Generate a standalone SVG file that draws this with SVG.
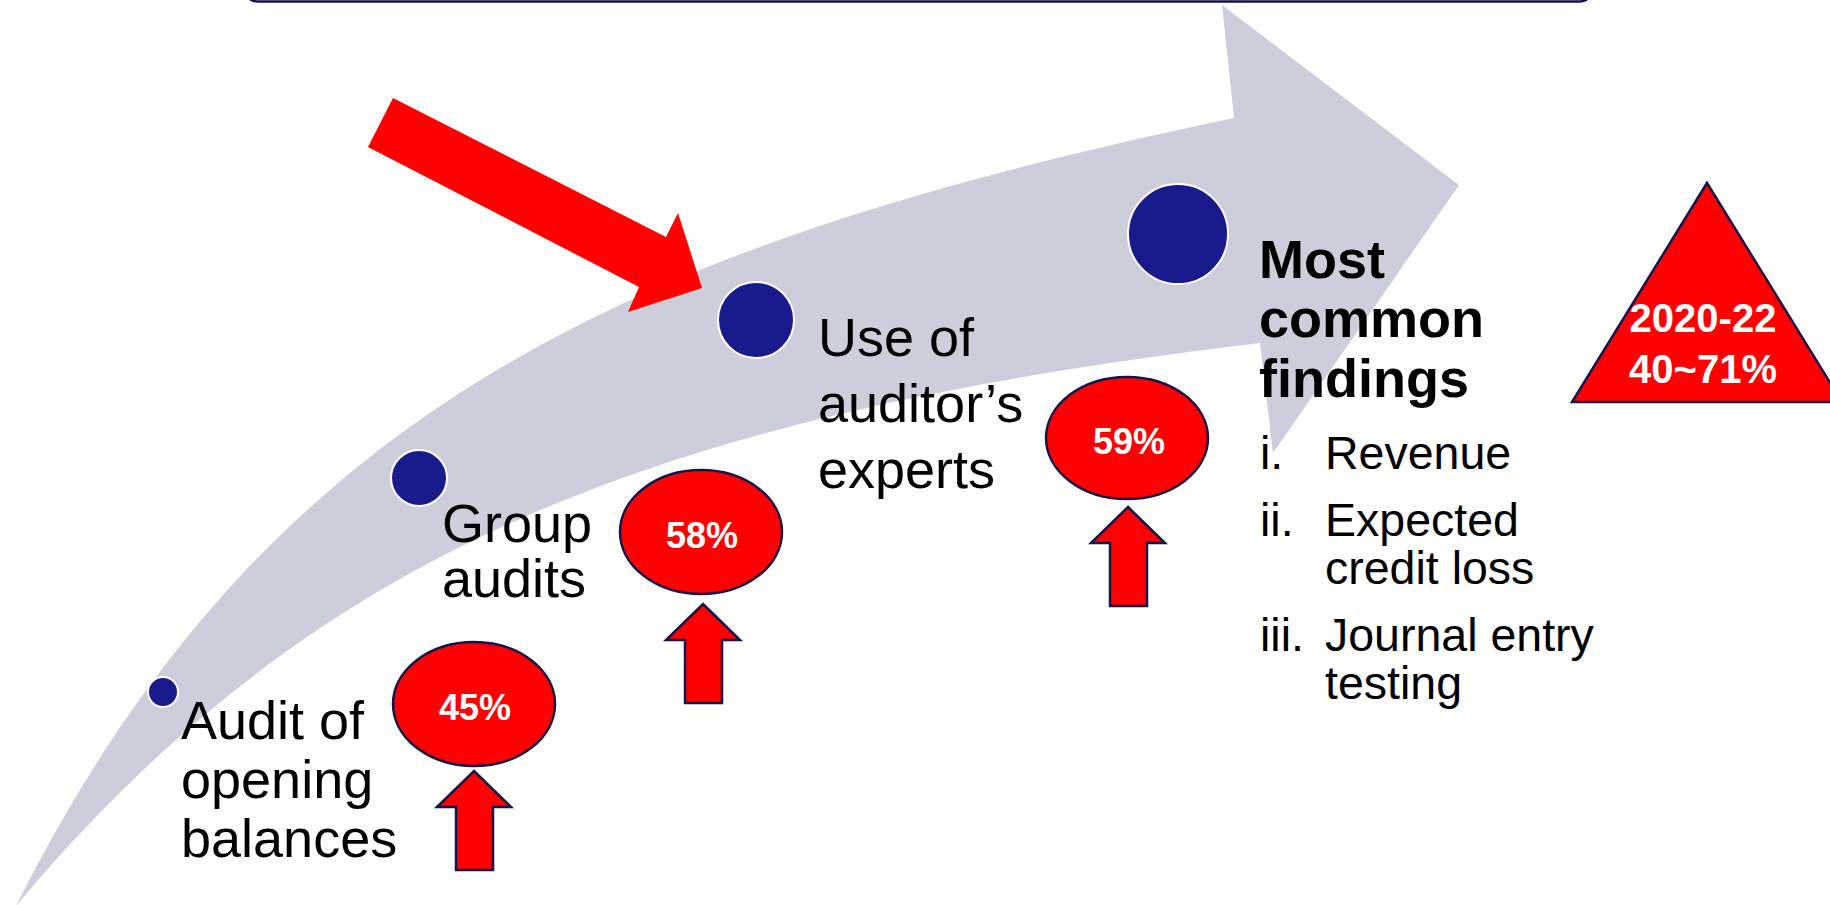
<svg xmlns="http://www.w3.org/2000/svg" width="1830" height="905" viewBox="0 0 1830 905">
<style>
.t{font-family:"Liberation Sans",Arial,sans-serif;fill:#000}
.lbl{font-size:54px}
.bold{font-weight:bold}
.lst{font-size:46.5px}
.pct{font-family:"Liberation Sans",Arial,sans-serif;font-weight:bold;font-size:36px;fill:#fff;text-anchor:middle}
.tri{font-family:"Liberation Sans",Arial,sans-serif;font-weight:bold;font-size:40px;fill:#fff;text-anchor:middle}
.dot{fill:#191B8D;stroke:#fff;stroke-width:2}
.oval{fill:#FF0000;stroke:#14144A;stroke-width:2.5}
.up{fill:#FF0000;stroke:#14144A;stroke-width:2.5;stroke-linejoin:miter}
</style>
<defs>
<polygon id="uparrow" points="0,0 37,36 19,36 19,99 -18,99 -18,36 -37,36"/>
</defs>
<rect width="1830" height="905" fill="#fff"/>
<path d="M246,-12 Q246,1.5 258,1.5 L1579,1.5 Q1591,1.5 1591,-12" fill="none" stroke="#10104A" stroke-width="2.5"/>
<g id="band">
<path d="M16,906 C268,405 634,244 1234,118 L1222,5 L1459,185 L1273,453 L1260,343 C660,415 318,545 16,906 Z" fill="#CDCDDC"/>
</g>
<g id="connectors">
<polygon id="pointer" points="393,98 666,237 678,213 702,288 628,312 639,287 368,147" fill="#FF0000"/>
<use href="#uparrow" x="474" y="771" class="up"/>
<use href="#uparrow" x="703" y="604" class="up"/>
<use href="#uparrow" x="1128" y="507" class="up"/>
</g>
<g id="node-opening">
<circle class="dot" cx="163" cy="692" r="15"/>
<text class="t lbl" x="181" y="739">Audit of</text>
<text class="t lbl" x="181" y="798">opening</text>
<text class="t lbl" x="181" y="857">balances</text>
</g>
<g id="node-group">
<circle class="dot" cx="419" cy="478" r="28"/>
<text class="t lbl" x="442" y="542">Group</text>
<text class="t lbl" x="442" y="597">audits</text>
</g>
<g id="node-experts">
<circle class="dot" cx="756" cy="320" r="38"/>
<text class="t lbl" x="818" y="356">Use of</text>
<text class="t lbl" x="818" y="422">auditor’s</text>
<text class="t lbl" x="818" y="488">experts</text>
</g>
<g id="node-findings">
<circle class="dot" cx="1178" cy="234" r="50"/>
<text class="t lbl bold" x="1259" y="278">Most</text>
<text class="t lbl bold" x="1259" y="337">common</text>
<text class="t lbl bold" x="1259" y="397">findings</text>
<text class="t lst" x="1260" y="469">i.</text>
<text class="t lst" x="1325" y="469">Revenue</text>
<text class="t lst" x="1260" y="536">ii.</text>
<text class="t lst" x="1325" y="536">Expected</text>
<text class="t lst" x="1325" y="584">credit loss</text>
<text class="t lst" x="1260" y="651">iii.</text>
<text class="t lst" x="1325" y="651">Journal entry</text>
<text class="t lst" x="1325" y="699">testing</text>
</g>
<g id="pct-45">
<ellipse class="oval" cx="474" cy="704" rx="81" ry="62"/>
<text class="pct" x="475" y="720">45%</text>
</g>
<g id="pct-58">
<ellipse class="oval" cx="701" cy="532" rx="81" ry="62"/>
<text class="pct" x="702" y="548">58%</text>
</g>
<g id="pct-59">
<ellipse class="oval" cx="1127" cy="438" rx="81" ry="61"/>
<text class="pct" x="1129" y="454">59%</text>
</g>
<g id="range">
<polygon points="1707,183 1842,402 1572,402" fill="#FF0000" stroke="#14144A" stroke-width="2.5"/>
<text class="tri" x="1703" y="332">2020-22</text>
<text class="tri" x="1703" y="383">40~71%</text>
</g>
</svg>
